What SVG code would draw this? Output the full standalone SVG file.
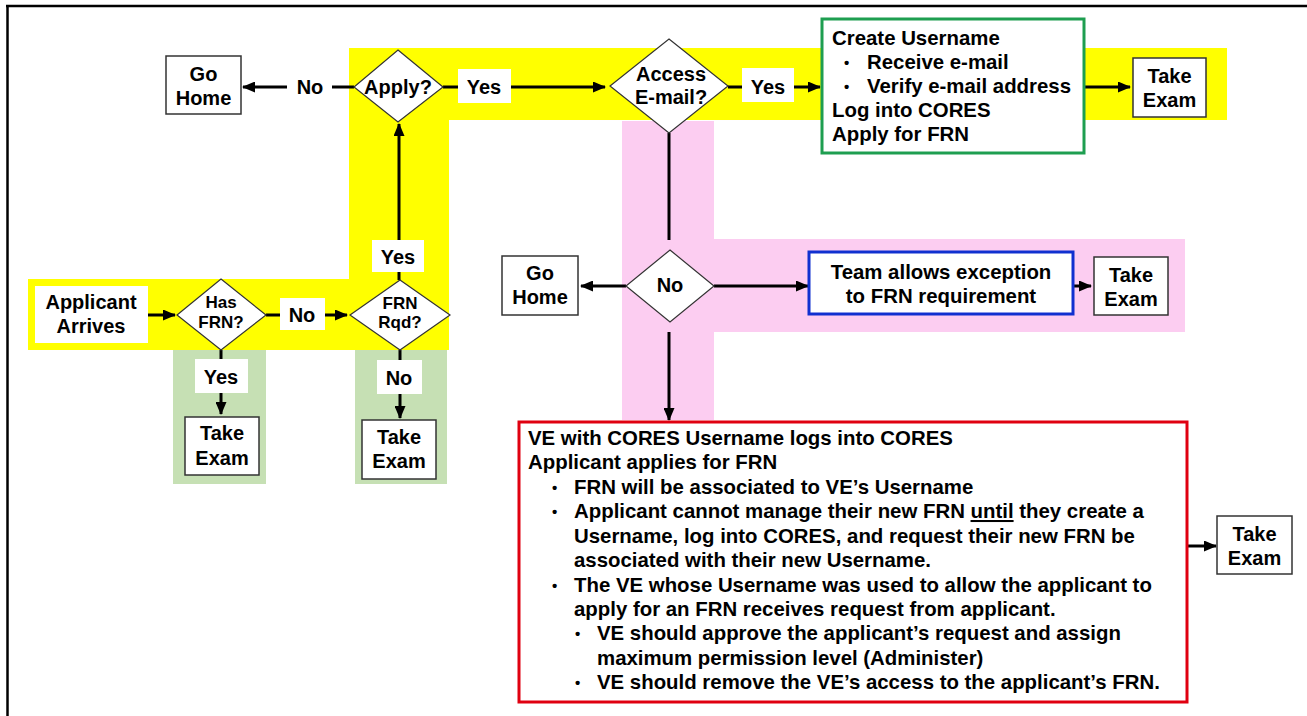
<svg xmlns="http://www.w3.org/2000/svg" width="1307" height="716" viewBox="0 0 1307 716">
<defs>
<marker id="ah" markerUnits="userSpaceOnUse" markerWidth="13" markerHeight="11" refX="12" refY="5.5" orient="auto">
<path d="M0,0 L13,5.5 L0,11 z" fill="#000"/>
</marker>
<style>
text{font-family:"Liberation Sans",Arial,sans-serif;font-weight:bold;font-size:20px;fill:#000}
.c{text-anchor:middle}
.s{font-size:17px}
.b{font-size:15px}
.t{font-size:20.4px}
.box{fill:#fff;stroke:#333;stroke-width:1.5}
.dia{fill:#fff;stroke:#333;stroke-width:1.2}
.lbg{fill:#fff}
.ln{stroke:#000;stroke-width:3;fill:none}
.ar{stroke:#000;stroke-width:3;fill:none;marker-end:url(#ah)}
</style>
</defs>
<rect x="0" y="0" width="1307" height="716" fill="#fff"/>
<g id="frame">
<line x1="7.5" y1="6" x2="7.5" y2="716" stroke="#000" stroke-width="2.5"/>
<line x1="6" y1="6" x2="1307" y2="6" stroke="#000" stroke-width="2.5"/>
</g>
<g id="bands">
<polygon points="349,48 1227,48 1227,120 449,120 449,350 28,350 28,279 349,279" fill="#ffff00"/>
<polygon points="622,121 714,121 714,239 1185,239 1185,332 714,332 714,420 622,420" fill="#fccdf1"/>
<rect x="173" y="350" width="93" height="134" fill="#c6e0b4"/>
<rect x="355" y="350" width="92" height="134" fill="#c6e0b4"/>
</g>
<g id="connectors">
<line class="ar" x1="354" y1="87" x2="243" y2="87"/>
<line class="ar" x1="443" y1="87" x2="605" y2="87"/>
<line class="ar" x1="728" y1="87" x2="820" y2="87"/>
<line class="ar" x1="1084" y1="87" x2="1130" y2="87"/>
<line class="ln" x1="669" y1="133" x2="669" y2="240"/>
<line class="ar" x1="626" y1="286" x2="581" y2="286"/>
<line class="ar" x1="714" y1="286" x2="808" y2="286"/>
<line class="ar" x1="1073" y1="286" x2="1091" y2="286"/>
<line class="ar" x1="669" y1="332" x2="669" y2="420"/>
<line class="ar" x1="1187" y1="546" x2="1216" y2="546"/>
<line class="ar" x1="148" y1="315" x2="175" y2="315"/>
<line class="ar" x1="266" y1="315" x2="347" y2="315"/>
<line class="ar" x1="399" y1="280" x2="399" y2="124"/>
<line class="ar" x1="221" y1="350" x2="221" y2="414"/>
<line class="ar" x1="400" y1="350" x2="400" y2="418"/>
</g>
<g id="labels">
<rect class="lbg" x="287" y="70" width="45" height="34"/>
<text class="c" x="310" y="94">No</text>
<rect class="lbg" x="458" y="69" width="53" height="34"/>
<text class="c" x="484" y="94">Yes</text>
<rect class="lbg" x="742" y="68" width="52" height="34"/>
<text class="c" x="768" y="94">Yes</text>
<rect class="lbg" x="280" y="298" width="45" height="32"/>
<text class="c" x="302" y="322">No</text>
<rect class="lbg" x="372" y="240" width="52" height="32"/>
<text class="c" x="398" y="264">Yes</text>
<rect class="lbg" x="195" y="359" width="53" height="34"/>
<text class="c" x="221" y="384">Yes</text>
<rect class="lbg" x="377" y="360" width="45" height="34"/>
<text class="c" x="399" y="385">No</text>
</g>
<g id="go-home-1">
<rect class="box" x="166" y="56" width="75" height="58"/>
<text class="c" x="203.5" y="81">Go</text>
<text class="c" x="203.5" y="105">Home</text>
</g>
<g id="apply">
<polygon class="dia" points="398,50 443,87 398,122 354,87"/>
<text class="c" x="398" y="94">Apply?</text>
</g>
<g id="access-email">
<polygon class="dia" points="669,39 728,86 669,133 610,86"/>
<text class="c" x="671" y="81">Access</text>
<text class="c" x="671" y="104">E-mail?</text>
</g>
<g id="create-username">
<rect x="822" y="19" width="262" height="134" fill="#fff" stroke="#1e9e50" stroke-width="3"/>
<text class="t" x="832" y="45">Create Username</text>
<text class="b" x="844" y="68">•</text>
<text class="t" x="867" y="69">Receive e-mail</text>
<text class="b" x="844" y="92">•</text>
<text class="t" x="867" y="93">Verify e-mail address</text>
<text class="t" x="832" y="117">Log into CORES</text>
<text class="t" x="832" y="141">Apply for FRN</text>
</g>
<g id="take-exam-1">
<rect class="box" x="1133" y="58" width="73" height="59"/>
<text class="c" x="1169.5" y="83">Take</text>
<text class="c" x="1169.5" y="107">Exam</text>
</g>
<g id="no-email">
<polygon class="dia" points="670,250 714,286 670,322 626,286"/>
<text class="c" x="670" y="292">No</text>
</g>
<g id="go-home-2">
<rect class="box" x="502" y="256" width="76" height="59"/>
<text class="c" x="540" y="280">Go</text>
<text class="c" x="540" y="304">Home</text>
</g>
<g id="team-exception">
<rect x="809" y="252" width="264" height="62" fill="#fff" stroke="#1030d0" stroke-width="3"/>
<text class="c t" x="941" y="279">Team allows exception</text>
<text class="c t" x="941" y="303">to FRN requirement</text>
</g>
<g id="take-exam-2">
<rect class="box" x="1094" y="257" width="74" height="58"/>
<text class="c" x="1131" y="282">Take</text>
<text class="c" x="1131" y="306">Exam</text>
</g>
<g id="ve-cores">
<rect x="519" y="422" width="668" height="280" fill="#fff" stroke="#e00010" stroke-width="3"/>
<text class="t" x="528" y="445">VE with CORES Username logs into CORES</text>
<text class="t" x="528" y="469">Applicant applies for FRN</text>
<text class="b" x="552" y="493">•</text>
<text class="t" x="574" y="494">FRN will be associated to VE’s Username</text>
<text class="b" x="552" y="517">•</text>
<text class="t" x="574" y="518">Applicant cannot manage their new FRN <tspan text-decoration="underline">until</tspan> they create a</text>
<text class="t" x="574" y="543">Username, log into CORES, and request their new FRN be</text>
<text class="t" x="574" y="567">associated with their new Username.</text>
<text class="b" x="552" y="591">•</text>
<text class="t" x="574" y="592">The VE whose Username was used to allow the applicant to</text>
<text class="t" x="574" y="616">apply for an FRN receives request from applicant.</text>
<text class="b" x="575" y="639">•</text>
<text class="t" x="597" y="640">VE should approve the applicant’s request and assign</text>
<text class="t" x="597" y="665">maximum permission level (Administer)</text>
<text class="b" x="575" y="688">•</text>
<text class="t" x="597" y="689">VE should remove the VE’s access to the applicant’s FRN.</text>
</g>
<g id="take-exam-3">
<rect class="box" x="1217" y="516" width="75" height="58"/>
<text class="c" x="1254.5" y="541">Take</text>
<text class="c" x="1254.5" y="565">Exam</text>
</g>
<g id="applicant-arrives">
<rect x="35" y="286" width="113" height="57" fill="#fff"/>
<text class="c" x="91" y="309">Applicant</text>
<text class="c" x="91" y="333">Arrives</text>
</g>
<g id="has-frn">
<polygon class="dia" points="221,279 266,315 221,350 177,315"/>
<text class="c s" x="221" y="308">Has</text>
<text class="c s" x="221" y="328">FRN?</text>
</g>
<g id="frn-rqd">
<polygon class="dia" points="400,280 450,315 400,350 350,315"/>
<text class="c s" x="400" y="309">FRN</text>
<text class="c s" x="400" y="328">Rqd?</text>
</g>
<g id="take-exam-4">
<rect class="box" x="185" y="417" width="74" height="58"/>
<text class="c" x="222" y="440">Take</text>
<text class="c" x="222" y="465">Exam</text>
</g>
<g id="take-exam-5">
<rect class="box" x="362" y="420" width="74" height="59"/>
<text class="c" x="399" y="444">Take</text>
<text class="c" x="399" y="468">Exam</text>
</g>
</svg>
